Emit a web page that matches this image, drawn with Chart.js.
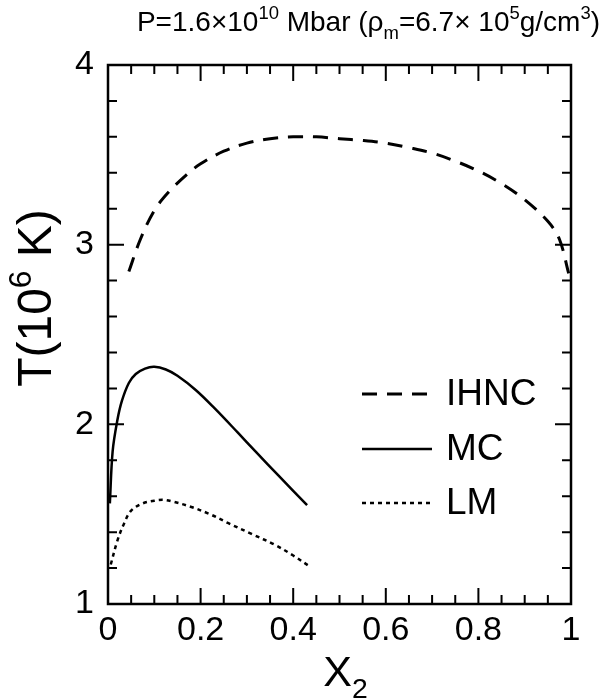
<!DOCTYPE html>
<html>
<head>
<meta charset="utf-8">
<script src="https://cdn.jsdelivr.net/npm/chart.js@4"></script>
<style>
  body { margin: 0; background: #fff; }
  canvas { display: block; }
</style>
</head>
<body>
<canvas id="c" width="604" height="698"></canvas>
<script>
const seriesNames = ['IHNC', 'MC', 'LM']

// IHNC (dashed)
const xIHNC = [0.045, 0.07, 0.1, 0.13, 0.17, 0.2, 0.25, 0.3, 0.35, 0.4, 0.45, 0.5, 0.55, 0.6, 0.65, 0.7, 0.75, 0.8, 0.85, 0.9, 0.95, 0.975, 0.995]
const tIHNC = [2.85, 3.03, 3.19, 3.29, 3.39, 3.45, 3.52, 3.565, 3.59, 3.6, 3.6, 3.59, 3.58, 3.565, 3.54, 3.51, 3.465, 3.41, 3.34, 3.25, 3.13, 3.03, 2.84]

// MC (solid)
const xMC = [0.004, 0.01, 0.02, 0.03, 0.045, 0.06, 0.08, 0.1, 0.125, 0.15, 0.19, 0.23, 0.28, 0.32, 0.37, 0.43]
const tMC = [1.56, 1.85, 2.02, 2.13, 2.23, 2.28, 2.31, 2.32, 2.305, 2.27, 2.19, 2.09, 1.955, 1.845, 1.71, 1.55]

// LM (dotted)
const xLM = [0.006, 0.02, 0.035, 0.05, 0.075, 0.1, 0.12, 0.14, 0.18, 0.22, 0.26, 0.31, 0.36, 0.4, 0.435]
const tLM = [1.22, 1.35, 1.45, 1.52, 1.56, 1.575, 1.58, 1.57, 1.54, 1.5, 1.45, 1.39, 1.33, 1.27, 1.21]

const xTickValues = [0, 0.2, 0.4, 0.6, 0.8, 1]
const xTickLabels = ['0', '0.2', '0.4', '0.6', '0.8', '1']
const yTickValues = [1, 2, 3, 4]
const yTickLabels = ['1', '2', '3', '4']

const FONT = '"Liberation Sans", Arial, Helvetica, sans-serif'

function toPoints (xs, ys) {
  return xs.map((x, i) => ({ x: x, y: ys[i] }))
}

// draws text with superscript / subscript pieces
function richWidth (ctx, parts, size) {
  let w = 0
  parts.forEach(p => {
    const s = p.sup || p.sub ? size * 0.66 : size
    ctx.font = s + 'px ' + FONT
    w += ctx.measureText(p.t).width
  })
  return w
}
function drawRich (ctx, parts, x, y, size) {
  let cx = x
  ctx.textBaseline = 'alphabetic'
  ctx.textAlign = 'left'
  parts.forEach(p => {
    const s = p.sup || p.sub ? size * 0.66 : size
    let dy = 0
    if (p.sup) dy = -size * 0.42
    if (p.sub) dy = size * 0.28
    ctx.font = s + 'px ' + FONT
    ctx.fillText(p.t, cx, y + dy)
    cx += ctx.measureText(p.t).width
  })
}

const decorations = {
  id: 'decorations',
  afterDraw (chart) {
    const ctx = chart.ctx
    const { left, right, top, bottom } = chart.chartArea
    const xs = chart.scales.x
    const ys = chart.scales.y
    ctx.save()
    ctx.strokeStyle = '#000'
    ctx.fillStyle = '#000'
    ctx.lineWidth = 2.5
    ctx.setLineDash([])
    ctx.strokeRect(left, top, right - left, bottom - top)

    // inward ticks on all four sides
    ctx.lineWidth = 2
    ctx.beginPath()
    for (let k = 1; k < 20; k++) {
      const px = xs.getPixelForValue(k / 20)
      const len = k % 4 === 0 ? 16 : 9
      ctx.moveTo(px, bottom); ctx.lineTo(px, bottom - len)
      ctx.moveTo(px, top); ctx.lineTo(px, top + len)
    }
    for (let k = 1; k < 15; k++) {
      const py = ys.getPixelForValue(1 + k * 0.2)
      const len = k % 5 === 0 ? 16 : 9
      ctx.moveTo(left, py); ctx.lineTo(left + len, py)
      ctx.moveTo(right, py); ctx.lineTo(right - len, py)
    }
    ctx.stroke()

    // legend inside the plot
    const rows = [394, 449, 503]
    chart.data.datasets.forEach((ds, i) => {
      ctx.lineWidth = ds.borderWidth
      ctx.setLineDash(ds.borderDash || [])
      ctx.beginPath()
      ctx.moveTo(362, rows[i])
      ctx.lineTo(432, rows[i])
      ctx.stroke()
      ctx.setLineDash([])
      ctx.font = '37px ' + FONT
      ctx.textAlign = 'left'
      ctx.textBaseline = 'middle'
      ctx.fillText(ds.label, 446, rows[i] + 1)
    })

    // title
    const title = [
      { t: 'P=1.6×10' }, { t: '10', sup: true }, { t: ' Mbar (ρ' }, { t: 'm', sub: true },
      { t: '=6.7× 10' }, { t: '5', sup: true }, { t: 'g/cm' }, { t: '3', sup: true }, { t: ')' }
    ]
    const tw = richWidth(ctx, title, 28)
    drawRich(ctx, title, 600 - tw, 31, 28)

    // x axis title
    const xt = [{ t: 'X' }, { t: '2', sub: true }]
    const xw = richWidth(ctx, xt, 43)
    drawRich(ctx, xt, (left + right) / 2 - xw / 2 + 6, 686, 43)

    // y axis title
    const yt = [{ t: 'T(10' }, { t: '6', sup: true }, { t: ' K)' }]
    const yw = richWidth(ctx, yt, 48)
    ctx.translate(51, 298)
    ctx.rotate(-Math.PI / 2)
    drawRich(ctx, yt, -yw / 2, 0, 48)
    ctx.restore()
  }
}

new Chart(document.getElementById('c').getContext('2d'), {
  type: 'line',
  data: {
    datasets: [
      { label: seriesNames[0], data: toPoints(xIHNC, tIHNC), borderColor: '#000', borderWidth: 3, borderDash: [15, 10] },
      { label: seriesNames[1], data: toPoints(xMC, tMC), borderColor: '#000', borderWidth: 2.5 },
      { label: seriesNames[2], data: toPoints(xLM, tLM), borderColor: '#000', borderWidth: 2.5, borderDash: [4, 4] }
    ]
  },
  options: {
    responsive: false,
    animation: false,
    devicePixelRatio: 1,
    layout: { padding: { top: 65, right: 33, left: 0, bottom: 0 } },
    elements: {
      point: { radius: 0 },
      line: { tension: 0.35, fill: false }
    },
    plugins: {
      legend: { display: false },
      tooltip: { enabled: false }
    },
    scales: {
      x: {
        type: 'linear',
        min: 0,
        max: 1,
        afterBuildTicks: s => { s.ticks = xTickValues.map(v => ({ value: v })) },
        afterFit: s => { s.height = 94 },
        grid: { display: false, drawTicks: false },
        border: { display: false },
        ticks: {
          callback: (v, i) => xTickLabels[i],
          color: '#000',
          font: { size: 34, family: FONT },
          padding: 6,
          maxRotation: 0,
          autoSkip: false
        }
      },
      y: {
        type: 'linear',
        min: 1,
        max: 4,
        afterBuildTicks: s => { s.ticks = yTickValues.map(v => ({ value: v })) },
        afterFit: s => { s.width = 108 },
        grid: { display: false, drawTicks: false },
        border: { display: false },
        ticks: {
          callback: (v, i) => yTickLabels[i],
          color: '#000',
          font: { size: 34, family: FONT },
          padding: 14
        }
      }
    }
  },
  plugins: [decorations]
})
</script>
</body>
</html>
